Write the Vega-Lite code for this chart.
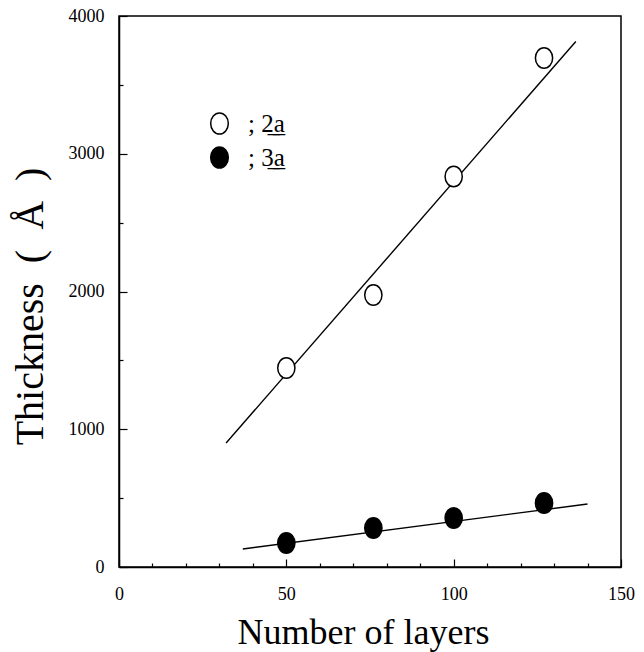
{
  "$schema": "https://vega.github.io/schema/vega-lite/v6.json",
  "width": 502,
  "height": 551,
  "autosize": {"type": "none"},
  "padding": {"left": 119, "top": 16, "right": 23, "bottom": 85},
  "background": "white",
  "config": {
    "view": {"stroke": "black", "strokeWidth": 1.5},
    "font": "Liberation Serif",
    "axis": {"grid": false, "domainColor": "black", "domainWidth": 1.5, "tickColor": "black", "tickWidth": 1.2, "labelColor": "black", "titleColor": "black", "labelFont": "Liberation Serif", "titleFont": "Liberation Serif", "titleFontWeight": "normal", "labelOverlap": false, "labelFlush": false, "labelFontSize": 18}
  },
  "datasets": {
    "points": [
      {"series": "2a", "layers": 50, "thickness": 1444},
      {"series": "2a", "layers": 76, "thickness": 1975},
      {"series": "2a", "layers": 100, "thickness": 2835},
      {"series": "2a", "layers": 127, "thickness": 3695},
      {"series": "3a", "layers": 50, "thickness": 174},
      {"series": "3a", "layers": 76, "thickness": 283},
      {"series": "3a", "layers": 100, "thickness": 356},
      {"series": "3a", "layers": 127, "thickness": 464}
    ],
    "fits": [
      {"series": "2a", "layers": 32, "thickness": 900},
      {"series": "2a", "layers": 136.5, "thickness": 3815},
      {"series": "3a", "layers": 37, "thickness": 131},
      {"series": "3a", "layers": 140, "thickness": 457}
    ]
  },
  "encoding": {
    "x": {
      "field": "layers", "type": "quantitative",
      "scale": {"domain": [0, 150], "nice": false},
      "axis": {
        "values": [0, 10, 20, 30, 40, 50, 60, 70, 80, 90, 100, 110, 120, 130, 140, 150],
        "labelExpr": "datum.value % 50 === 0 ? datum.label : ''",
        "format": "d",
        "labelOverlap": false,
        "labelFlush": false,
        "tickSize": {"condition": {"test": "datum.value % 50 === 0", "value": -8}, "value": -4},
        "labelFontSize": 18,
        "labelPadding": 26,
        "title": "Number of layers",
        "titleFontSize": 36,
        "titleX": 244,
        "titleY": 76,
        "titleBaseline": "alphabetic",
        "titleAlign": "center"
      }
    },
    "y": {
      "field": "thickness", "type": "quantitative",
      "scale": {"domain": [0, 4000], "nice": false},
      "axis": {
        "values": [0, 500, 1000, 1500, 2000, 2500, 3000, 3500, 4000],
        "labelExpr": "datum.value % 1000 === 0 ? datum.label : ''",
        "format": "d",
        "labelOverlap": false,
        "labelFlush": false,
        "tickSize": {"condition": {"test": "datum.value % 1000 === 0", "value": -8}, "value": -4},
        "labelFontSize": 18,
        "labelPadding": 23,
        "title": "Thickness\u2002(\u2002Å\u2002)",
        "titleFontSize": 40,
        "titleX": -77,
        "titleY": 290,
        "titleAngle": -90,
        "titleBaseline": "alphabetic",
        "titleAlign": "center"
      }
    }
  },
  "layer": [
    {
      "data": {"name": "fits"},
      "mark": {"type": "line", "color": "black", "strokeWidth": 1.4},
      "encoding": {
        "detail": {"field": "series"}
      }
    },
    {
      "data": {"name": "points"},
      "mark": {"type": "point", "filled": true, "opacity": 1, "stroke": "black", "strokeWidth": 1.5, "size": 420, "shape": "M 0 -1 A 0.84 1 0 1 1 0 1 A 0.84 1 0 1 1 0 -1 Z"},
      "encoding": {
        "fill": {
          "field": "series", "type": "nominal",
          "scale": {"domain": ["2a", "3a"], "range": ["white", "black"]},
          "legend": {
            "orient": "none", "legendX": 88, "legendY": 95, "padding": 0, "title": null,
            "symbolType": "M 0 -1 A 0.84 1 0 1 1 0 1 A 0.84 1 0 1 1 0 -1 Z",
            "symbolSize": 440, "symbolStrokeColor": "black", "symbolStrokeWidth": 1.5, "symbolOpacity": 1,
            "labelFont": "Liberation Serif", "labelFontSize": 25, "labelColor": "black", "labelOffset": 16,
            "rowPadding": 7,
            "labelExpr": "datum.label === '2a' ? '; 2̲a̲' : '; 3̲a̲'"
          }
        }
      }
    }
  ]
}
